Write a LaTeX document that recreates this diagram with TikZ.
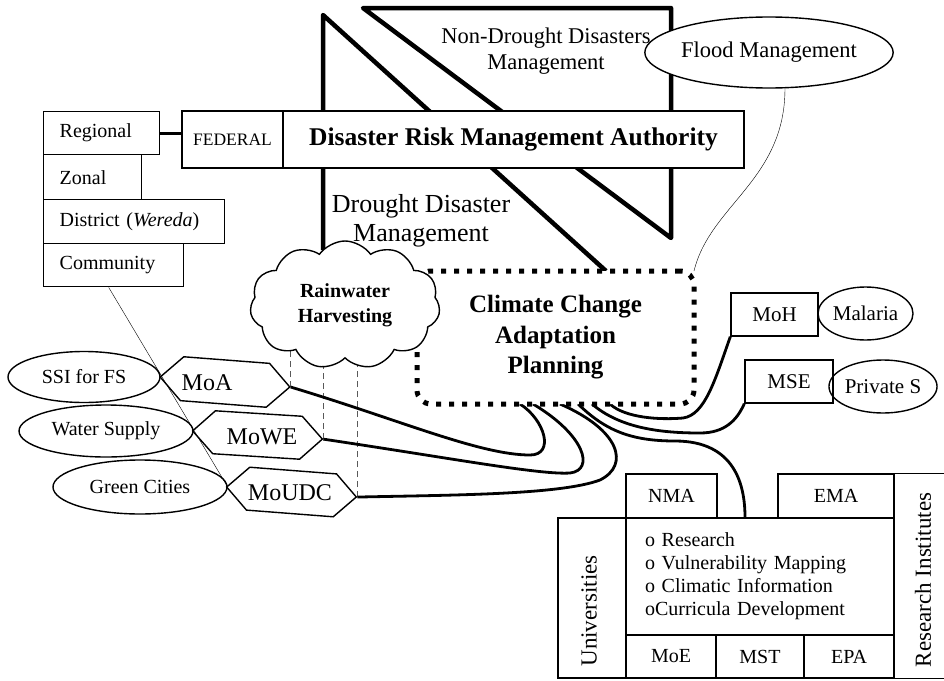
\documentclass[tikz,border=0pt]{standalone}
\usepackage{fontspec}
\setmainfont{Liberation Serif}
\usetikzlibrary{shapes.geometric,shapes.symbols,backgrounds,calc}
\newcommand{\fsz}[2]{\fontsize{#1}{#2}\selectfont}
\begin{document}
\begin{tikzpicture}[x=1pt,y=-1pt,line width=1.4pt,
  thickln/.style={line width=4.5pt,line join=round},
  curveln/.style={line width=2.8pt},
  stackbox/.style={draw,rectangle,anchor=north west,inner xsep=16pt,inner ysep=0pt,align=left,font=\fsz{20}{24}},
  hexa/.style={draw,signal,signal to=east and west,signal pointer angle=90,minimum width=130pt,minimum height=44pt,inner sep=0pt},
  oval/.style={draw,ellipse,inner sep=0pt,font=\fsz{20}{24}},
  box/.style={draw,rectangle,inner sep=0pt,font=\fsz{20}{24}},
  hexlbl/.style={font=\fsz{24}{28}},
  dashln/.style={line width=1.2pt,black!65,dash pattern=on 6pt off 4pt}]
\useasboundingbox (0,0) rectangle (944,680);

% left stack
\node[stackbox,text width=84pt,minimum height=43pt] (regional) at (43,111) {Regional};
\node[stackbox,text width=66pt,minimum height=45pt] (zonal) at (43,154) {Zonal};
\node[stackbox,text width=149pt,minimum height=44pt] (district) at (43,199) {District (\textit{Wereda})};
\node[stackbox,text width=108pt,minimum height=43pt] (community) at (43,243) {Community};

% authority
\node[box,fill=white,minimum width=101pt,minimum height=57pt,font=\fsz{17.5}{20}] (federal) at (232.5,139.5) {FEDERAL};
\node[box,fill=white,minimum width=461pt,minimum height=57pt,font=\bfseries\fsz{25.5}{30}] (drma) at (513.5,139.5) {Disaster Risk Management Authority};

\node[align=center,font=\fsz{22.5}{26}] (nondrought) at (546,51) {Non-Drought Disasters\\Management};
\node[align=center,font=\fsz{26}{29}] (drought) at (421,220.5) {Drought Disaster\\Management};

\node[oval,fill=white,minimum width=222pt,minimum height=71pt,font=\fsz{22.5}{27}] (flood) at (769,52.5) {Flood Management};

% CCAP
\node[draw,fill=white,line width=5pt,dash pattern=on 5pt off 8pt,rounded corners=14pt,minimum width=277pt,minimum height=133pt,outer sep=0pt,align=center,font=\bfseries\fsz{25}{30.5}] (ccap) at (555.5,337.5) {Climate Change\\Adaptation\\Planning};

% cloud (drawn over the CCAP border)
\node[cloud,draw,fill=white,cloud puffs=11,cloud puff arc=110,cloud ignores aspect,minimum width=190pt,minimum height=128pt,inner sep=0pt,align=center,font=\bfseries\fsz{20}{25}] (cloud) at (345,305) {Rainwater\\Harvesting};

% ministries (hexagons)
\node[hexa,rotate=-4.4] (moa) at (225,382) {};
\node[hexlbl] (moalbl) at (207,383) {MoA};
\node[hexa,rotate=-3.6,minimum height=43pt] (mowe) at (257.5,435) {};
\node[hexlbl] (mowelbl) at (262,437) {MoWE};
\node[hexa,rotate=-4.4,minimum height=43pt] (moudc) at (291.5,492) {};
\node[hexlbl] (moudclbl) at (290,493) {MoUDC};

% ellipses left
\node[oval,minimum width=152pt,minimum height=51pt] (ssi) at (84,377) {SSI for FS};
\node[oval,minimum width=174pt,minimum height=52pt] (water) at (106,431) {Water Supply};
\node[oval,minimum width=174pt,minimum height=54pt] (green) at (140,487) {Green Cities};

% right
\node[box,minimum width=87pt,minimum height=43pt,font=\fsz{21}{25}] (moh) at (774.5,314.5) {MoH};
\node[oval,minimum width=95pt,minimum height=53pt,font=\fsz{21}{25}] (malaria) at (865.5,313.5) {Malaria};
\node[box,minimum width=88pt,minimum height=43pt,font=\fsz{21}{25}] (mse) at (789,381.5) {MSE};
\node[oval,minimum width=100pt,minimum height=53pt,font=\fsz{21}{25}] (privs) at (883,386.5) {Private S};

% bottom right
\node[box,minimum width=91pt,minimum height=44pt] (nma) at (671.5,496) {NMA};
\node[box,minimum width=116pt,minimum height=44pt] (ema) at (836,496) {EMA};
\node[box,minimum width=268pt,minimum height=117pt,inner xsep=19pt,text width=230pt,align=left,font=\fsz{20}{23}] (centre) at (760,576.5) {o Research\\o Vulnerability Mapping\\o Climatic Information\\oCurricula Development};
\node[box,minimum width=68pt,minimum height=160pt] (univ) at (592,598) {};
\node[rotate=90,font=\fsz{23}{27}] (univlbl) at (589,611) {Universities};
\node[box,minimum width=90pt,minimum height=43pt] (moe) at (671,656.5) {MoE};
\node[box,minimum width=88pt,minimum height=43pt] (mst) at (760,656.5) {MST};
\node[box,minimum width=90pt,minimum height=43pt] (epa) at (849,656.5) {EPA};
\node[minimum width=58pt,minimum height=204pt,inner sep=0pt] (resbox) at (923,576) {};
\draw (resbox.north east) -- (resbox.north west) -- (resbox.south west) -- (resbox.south east);
\node[rotate=90,font=\fsz{23}{27}] (reslbl) at (923,580) {Research Institutes};

\begin{pgfonlayer}{background}
  % disaster triangles
  \draw[thickln] (363,8) -- (671,8) -- (671,238) -- cycle;
  \draw[thickln] (323,250) -- (323,15) -- (606,271);
  % links
  \draw[line width=3pt] (regional.east) -- (regional.east -| federal.west);
  \draw ([xshift=-5pt]community.south) -- (green.east);
  \draw[dashln] (moa.east) -- (moa.east |- cloud.center);
  \draw[dashln] (mowe.east) -- (mowe.east |- cloud.center);
  \draw[dashln] (moudc.east) -- (moudc.east |- cloud.center);
  \draw (flood.-66) .. controls (785,180) and (710,205) .. (ccap.north east);
  \draw[curveln] (moa.east) .. controls (400,420) and (480,455) .. (530,455) .. controls (555,455) and (545,420) .. ([xshift=103pt]ccap.south west);
  \draw[curveln] (mowe.east) .. controls (450,458) and (540,475) .. (570,473) .. controls (595,470) and (585,435) .. ([xshift=116pt]ccap.south west);
  \draw[curveln] (moudc.east) .. controls (450,495) and (560,495) .. (600,480) .. controls (630,465) and (620,430) .. ([xshift=143pt]ccap.south west);
  \draw[curveln] ([xshift=161pt]ccap.south west) .. controls (605,430) and (630,441) .. (675,441) .. controls (735,441) and (745,485) .. ([xshift=-15pt]centre.north);
  \draw[curveln] ([xshift=175pt]ccap.south west) .. controls (620,428) and (660,433) .. (700,433) .. controls (725,433) and (737,420) .. (mse.south west);
  \draw[curveln] ([xshift=193pt]ccap.south west) .. controls (625,418) and (660,420) .. (683,418) .. controls (705,415) and (715,380) .. (moh.south west);
\end{pgfonlayer}
\end{tikzpicture}
\end{document}
